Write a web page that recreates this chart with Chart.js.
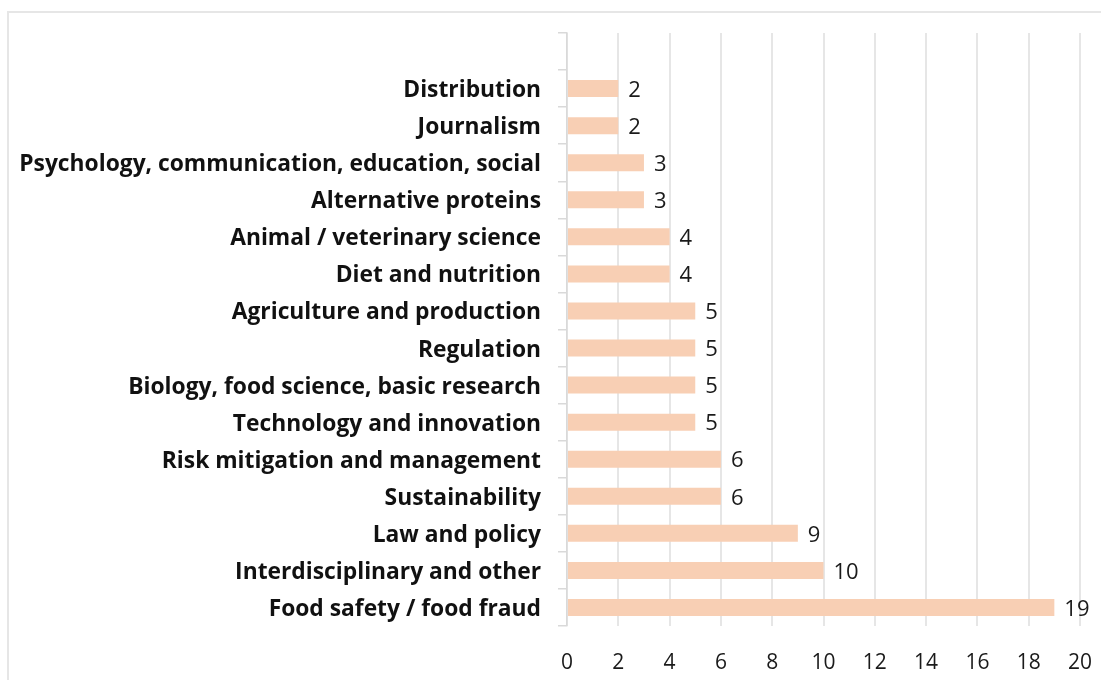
<!DOCTYPE html>
<html>
<head>
<meta charset="utf-8">
<script src="https://cdn.jsdelivr.net/npm/chart.js@4/dist/chart.umd.min.js"></script>
<style>
html,body{margin:0;padding:0;background:#fff;}
#wrap{position:relative;width:1101px;height:680px;}
</style>
</head>
<body>
<div id="wrap"><canvas id="c" width="1101" height="680"></canvas></div>
<script>
const categories = [
  "",
  "Distribution",
  "Journalism",
  "Psychology, communication, education, social",
  "Alternative proteins",
  "Animal / veterinary science",
  "Diet and nutrition",
  "Agriculture and production",
  "Regulation",
  "Biology, food science, basic research",
  "Technology and innovation",
  "Risk mitigation and management",
  "Sustainability",
  "Law and policy",
  "Interdisciplinary and other",
  "Food safety / food fraud"
];
const counts = [null, 2, 2, 3, 3, 4, 4, 5, 5, 5, 5, 6, 6, 9, 10, 19];
const xTicks = [0, 2, 4, 6, 8, 10, 12, 14, 16, 18, 20];

const frame = {
  id: 'frame',
  beforeDraw(chart) {
    const ctx = chart.ctx;
    ctx.save();
    ctx.strokeStyle = '#e6e6e6';
    ctx.lineWidth = 2;
    ctx.beginPath();
    ctx.moveTo(8, 690);
    ctx.lineTo(8, 12);
    ctx.lineTo(1110, 12);
    ctx.stroke();
    ctx.restore();
  }
};

const valueLabels = {
  id: 'valueLabels',
  afterDatasetsDraw(chart) {
    const ctx = chart.ctx;
    const meta = chart.getDatasetMeta(0);
    ctx.save();
    ctx.font = '22px "Open Sans"';
    ctx.fillStyle = '#1a1a1a';
    ctx.textAlign = 'left';
    ctx.textBaseline = 'middle';
    meta.data.forEach((bar, i) => {
      const v = counts[i];
      if (v === null || v === undefined) return;
      ctx.fillText(String(v), bar.x + 10, bar.y + 2);
    });
    ctx.restore();
  }
};

new Chart(document.getElementById('c'), {
  type: 'bar',
  data: {
    labels: categories,
    datasets: [{
      data: counts,
      backgroundColor: '#F8CFB4',
      borderWidth: 0,
      categoryPercentage: 1,
      barPercentage: 0.46
    }]
  },
  options: {
    indexAxis: 'y',
    responsive: false,
    animation: false,
    events: [],
    layout: { padding: { top: 33, right: 21, left: 0, bottom: 0 } },
    plugins: { legend: { display: false }, tooltip: { enabled: false } },
    scales: {
      x: {
        min: 0, max: 20,
        afterBuildTicks(scale) { scale.ticks = xTicks.map(v => ({ value: v })); },
        afterFit(scale) { scale.height = 54; },
        grid: { color: '#e6e6e6', lineWidth: 2, drawTicks: true, tickLength: 24, tickColor: 'rgba(0,0,0,0)' },
        border: { display: false },
        ticks: { font: { family: 'Open Sans', size: 21 }, color: '#1a1a1a', padding: 0 }
      },
      y: {
        afterFit(scale) { scale.width = 567; },
        grid: { drawOnChartArea: false, drawTicks: true, offset: true, tickLength: 9, color: '#d9d9d9', lineWidth: 1.5 },
        border: { display: true, color: '#d9d9d9', width: 1.5 },
        ticks: { font: { family: 'Open Sans', size: 22.8, weight: 'bold' }, color: '#111', padding: 17, labelOffset: 2, autoSkip: false }
      }
    }
  },
  plugins: [frame, valueLabels]
});
</script>
</body>
</html>
